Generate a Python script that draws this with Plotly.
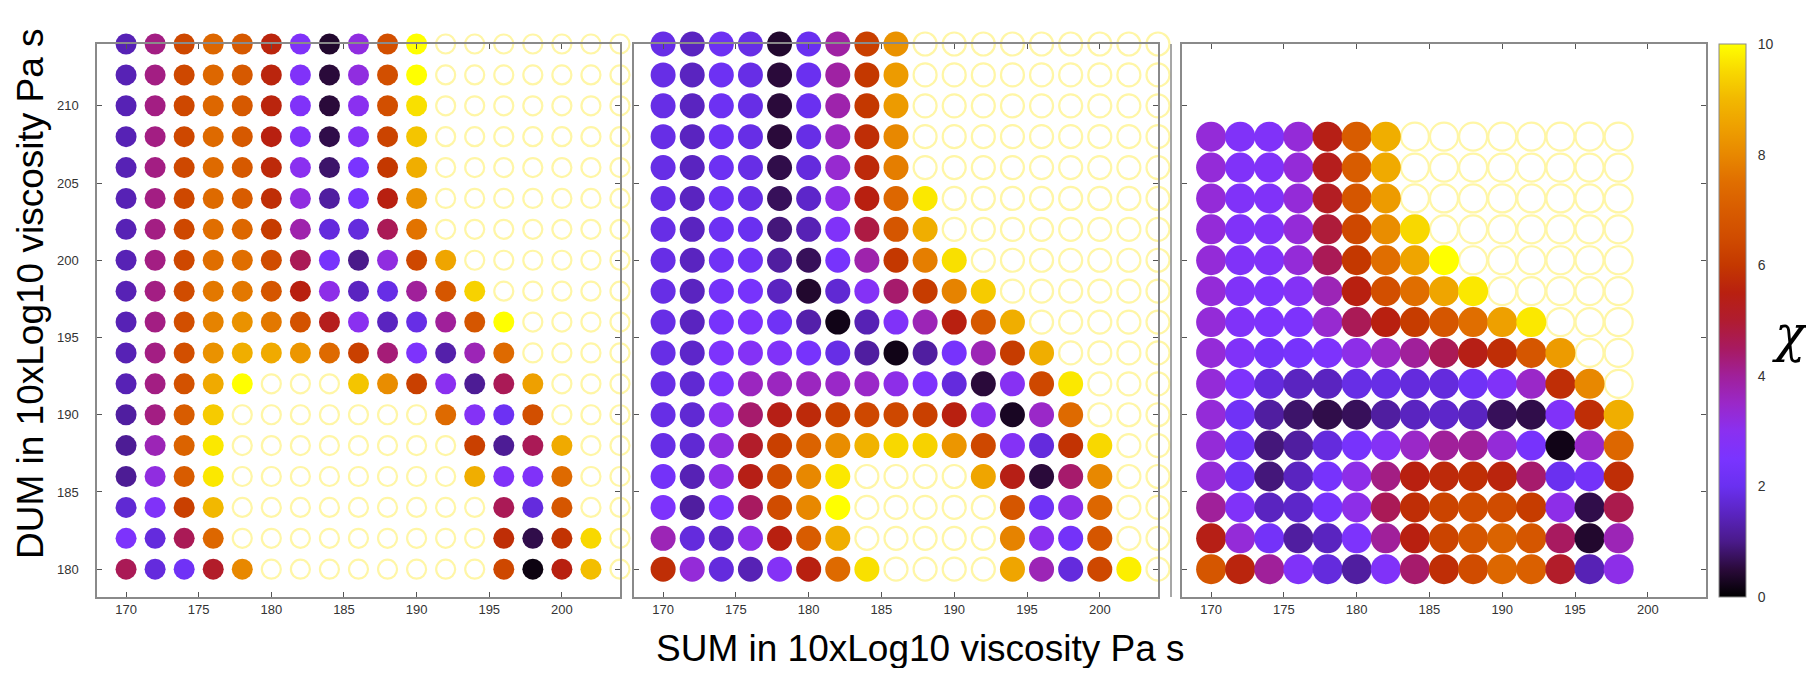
import plotly.graph_objects as go

# ---------------- data ----------------
X_VALUES = [170, 172, 174, 176, 178, 180, 182, 184, 186, 188, 190, 192, 194, 196, 198, 200, 202, 204]
Y_VALUES = [214, 212, 210, 208, 206, 204, 202, 200, 198, 196, 194, 192, 190, 188, 186, 184, 182, 180]
X3_VALUES = [170, 172, 174, 176, 178, 180, 182, 184, 186, 188, 190, 192, 194, 196, 198]
Y3_VALUES = [208, 206, 204, 202, 200, 198, 196, 194, 192, 190, 188, 186, 184, 182, 180]
N = None  # no value -> open circle

PANEL1 = [
    [1.4, 4.2, 6.4, 7.3, 6.9, 5.6, 2.7, 0.4, 3.2, 6.6, 10, N, N, N, N, N, N, N],
    [1.4, 4.2, 6.4, 7.3, 6.9, 5.6, 2.7, 0.5, 3.2, 6.6, 10, N, N, N, N, N, N, N],
    [1.4, 4.2, 6.4, 7.3, 6.9, 5.6, 2.7, 0.5, 3.0, 6.6, 9.6, N, N, N, N, N, N, N],
    [1.4, 4.2, 6.4, 7.4, 6.9, 5.5, 2.7, 0.6, 2.8, 6.3, 9.2, N, N, N, N, N, N, N],
    [1.4, 4.2, 6.4, 7.4, 6.9, 5.7, 3.0, 0.8, 2.5, 6.0, 8.8, N, N, N, N, N, N, N],
    [1.4, 4.2, 6.4, 7.4, 7.0, 5.8, 3.2, 1.2, 2.4, 5.5, 8.2, N, N, N, N, N, N, N],
    [1.4, 4.2, 6.4, 7.5, 7.3, 6.1, 3.8, 1.8, 1.8, 4.6, 7.6, N, N, N, N, N, N, N],
    [1.4, 4.2, 6.4, 7.5, 7.5, 6.5, 4.6, 2.4, 1.0, 3.2, 6.4, 8.6, N, N, N, N, N, N],
    [1.4, 4.2, 6.5, 7.7, 7.7, 6.8, 5.5, 3.1, 1.5, 1.9, 4.0, 6.8, 9.4, N, N, N, N, N],
    [1.4, 4.2, 6.6, 7.9, 8.2, 7.7, 6.7, 5.3, 3.0, 1.5, 1.9, 4.0, 6.8, 10, N, N, N, N],
    [1.4, 4.2, 6.6, 8.2, 8.8, 8.7, 8.3, 7.4, 6.2, 4.3, 2.6, 1.3, 3.7, 7.4, N, N, N, N],
    [1.4, 4.2, 6.7, 8.7, 10, N, N, N, 9.2, 8.1, 6.2, 3.0, 1.1, 4.6, 8.5, N, N, N],
    [1.2, 4.2, 7.0, 9.3, N, N, N, N, N, N, N, 7.4, 2.8, 2.1, 6.6, N, N, N],
    [1.1, 3.7, 7.2, 9.7, N, N, N, N, N, N, N, N, 6.2, 1.1, 4.6, 8.7, N, N],
    [1.1, 3.2, 7.0, 9.7, N, N, N, N, N, N, N, N, 8.8, 2.7, 2.7, 7.4, N, N],
    [1.7, 2.7, 6.2, 9.0, N, N, N, N, N, N, N, N, N, 4.6, 1.8, 6.8, N, N],
    [2.6, 1.8, 4.6, 7.3, N, N, N, N, N, N, N, N, N, 5.8, 0.6, 5.9, 9.5, N],
    [4.6, 1.8, 2.2, 5.1, 8.0, N, N, N, N, N, N, N, N, 6.4, 0.15, 5.5, 9.1, N],
]

PANEL2 = [
    [1.9, 1.5, 2.1, 1.9, 0.4, 2.0, 3.9, 6.2, 8.2, N, N, N, N, N, N, N, N, N],
    [1.9, 1.5, 2.1, 1.9, 0.5, 2.0, 3.9, 6.0, 8.4, N, N, N, N, N, N, N, N, N],
    [1.9, 1.5, 2.1, 1.9, 0.5, 2.0, 3.8, 6.0, 8.4, N, N, N, N, N, N, N, N, N],
    [1.9, 1.5, 2.1, 1.9, 0.5, 1.9, 3.6, 5.8, 8.0, N, N, N, N, N, N, N, N, N],
    [1.9, 1.5, 2.1, 1.9, 0.6, 1.8, 3.4, 5.7, 7.8, N, N, N, N, N, N, N, N, N],
    [1.9, 1.5, 2.1, 1.9, 0.7, 1.6, 3.1, 5.5, 7.3, 9.7, N, N, N, N, N, N, N, N],
    [1.9, 1.5, 2.1, 2.0, 0.9, 1.4, 2.7, 4.8, 6.8, 8.8, N, N, N, N, N, N, N, N],
    [1.9, 1.5, 2.2, 2.2, 1.2, 0.7, 2.4, 3.8, 6.0, 7.8, 9.6, N, N, N, N, N, N, N],
    [1.9, 1.5, 2.3, 2.4, 1.5, 0.4, 1.7, 2.8, 4.4, 6.1, 7.9, 9.3, N, N, N, N, N, N],
    [1.9, 1.5, 2.4, 2.6, 2.2, 1.3, 0.2, 1.4, 2.7, 3.7, 5.5, 6.9, 8.8, N, N, N, N, N],
    [1.9, 1.6, 2.6, 2.8, 2.7, 2.4, 1.9, 1.2, 0.2, 1.2, 2.4, 3.7, 6.1, 8.8, N, N, N, N],
    [1.9, 1.7, 2.6, 3.6, 3.6, 3.6, 3.5, 3.5, 3.1, 2.6, 1.8, 0.5, 2.9, 6.4, 9.7, N, N, N],
    [1.9, 1.7, 3.0, 4.4, 5.4, 5.7, 6.2, 6.4, 6.4, 6.2, 5.5, 3.0, 0.3, 3.5, 7.4, N, N, N],
    [1.9, 1.7, 3.2, 5.1, 6.2, 7.2, 8.1, 8.9, 9.5, 9.4, 8.3, 6.4, 2.8, 1.8, 5.9, 9.5, N, N],
    [2.3, 1.4, 3.1, 5.4, 6.5, 8.0, 9.7, N, N, N, N, 8.6, 5.4, 0.5, 4.4, 8.0, N, N],
    [2.6, 1.2, 2.6, 4.5, 6.5, 8.0, 10, N, N, N, N, N, 6.8, 2.2, 3.1, 7.3, N, N],
    [3.7, 1.8, 1.6, 3.1, 5.5, 7.0, 8.8, N, N, N, N, N, 7.9, 3.0, 2.3, 6.8, N, N],
    [5.8, 3.3, 1.8, 1.4, 2.8, 5.5, 7.4, 9.6, N, N, N, N, 8.6, 3.7, 1.8, 6.4, 9.8, N],
]

PANEL3 = [
    [3.3, 2.7, 2.7, 3.3, 5.4, 7.0, 8.8, N, N, N, N, N, N, N, N],
    [3.3, 2.7, 2.7, 3.3, 5.3, 7.0, 8.7, N, N, N, N, N, N, N, N],
    [3.3, 2.7, 2.7, 3.3, 5.2, 6.8, 8.4, N, N, N, N, N, N, N, N],
    [3.3, 2.7, 2.7, 3.3, 4.9, 6.4, 8.1, 9.5, N, N, N, N, N, N, N],
    [3.3, 2.7, 2.7, 3.3, 4.6, 6.0, 7.5, 8.6, 10, N, N, N, N, N, N],
    [3.3, 2.7, 2.6, 2.8, 3.7, 5.5, 6.6, 7.5, 8.6, 9.7, N, N, N, N, N],
    [3.3, 2.7, 2.6, 2.6, 3.4, 4.6, 5.5, 6.1, 6.8, 7.5, 8.5, 9.7, N, N, N],
    [3.3, 2.7, 2.3, 2.4, 2.6, 3.1, 3.5, 4.0, 4.6, 5.4, 5.8, 6.8, 8.4, N, N],
    [3.3, 2.6, 1.8, 1.5, 1.5, 1.9, 1.9, 1.8, 1.8, 2.2, 2.7, 3.5, 5.8, 8.0, N],
    [3.3, 2.2, 1.2, 0.8, 0.6, 0.7, 1.2, 1.5, 1.6, 1.5, 0.7, 0.6, 2.7, 5.8, 8.8],
    [3.3, 2.2, 0.9, 1.2, 1.8, 2.4, 2.8, 3.5, 4.0, 4.0, 3.3, 2.4, 0.2, 3.5, 7.3],
    [3.3, 2.2, 0.9, 1.5, 2.4, 3.1, 4.2, 5.5, 5.7, 5.8, 5.6, 4.4, 2.0, 2.3, 5.8],
    [4.0, 2.7, 1.5, 1.6, 2.4, 3.1, 4.6, 5.8, 6.3, 6.5, 6.5, 6.1, 3.1, 0.6, 4.7],
    [5.4, 3.3, 2.3, 1.2, 1.5, 2.6, 4.0, 5.5, 6.3, 6.8, 7.2, 6.8, 4.5, 0.4, 3.7],
    [6.8, 5.6, 4.0, 2.7, 1.8, 1.2, 2.7, 4.4, 5.8, 6.5, 7.3, 7.1, 5.1, 1.4, 3.1],
]

X_TICKS = [170, 175, 180, 185, 190, 195, 200]
Y_TICKS = [180, 185, 190, 195, 200, 205, 210]
CBAR_TICKS = [0, 2, 4, 6, 8, 10]

# ---------------- style ----------------
PAGE_W, PAGE_H = 1814, 676
BODY = 8                      # default page margin around the plot div
FW, FH = PAGE_W - 2 * BODY, PAGE_H - 2 * BODY

COLORSCALE = [
    [0.00, "#000000"], [0.05, "#2a0a3a"], [0.10, "#4a1a8a"], [0.15, "#5a24c0"],
    [0.20, "#6a30f0"], [0.25, "#7a34ff"], [0.30, "#8a30f0"], [0.35, "#9a28c8"],
    [0.40, "#a0209a"], [0.45, "#a81a60"], [0.50, "#b01c30"], [0.55, "#b82010"],
    [0.60, "#c43800"], [0.65, "#d04c00"], [0.70, "#d85c00"], [0.75, "#e06e00"],
    [0.80, "#e88800"], [0.85, "#eea000"], [0.90, "#f2b800"], [0.95, "#f8d800"],
    [1.00, "#ffff00"],
]
RING = "#fff6a6"
FRAME = "#8a8a8a"
SANS = "Liberation Sans, Arial, sans-serif"
TICKFONT = dict(family=SANS, size=13, color="#333333")


def px_x(p):
    return (p - BODY) / FW


def px_y(p):
    return 1 - (p - BODY) / FH


Y_TOP, Y_BOT = 44, 597
PANELS_PX = [(97, 620), (634, 1158), (1182, 1706)]
X_RANGE = [168, 204]
Y_RANGE = [178.2, 214]

fig = go.Figure()


def add_panel(idx, mat, xs, ys, size):
    fx, fy, fv, ox, oy = [], [], [], [], []
    for r, yv in enumerate(ys):
        for c, xv in enumerate(xs):
            v = mat[r][c]
            if v is None:
                ox.append(xv)
                oy.append(yv)
            else:
                fx.append(xv)
                fy.append(yv)
                fv.append(v)
    ax = "" if idx == 1 else str(idx)
    fig.add_trace(go.Scatter(
        x=ox, y=oy, mode="markers", xaxis="x" + ax, yaxis="y" + ax,
        marker=dict(symbol="circle-open", size=size - 2, color=RING,
                    line=dict(width=2.2, color=RING)),
        cliponaxis=False, hoverinfo="skip", showlegend=False))
    fig.add_trace(go.Scatter(
        x=fx, y=fy, mode="markers", xaxis="x" + ax, yaxis="y" + ax,
        marker=dict(size=size, color=fv, coloraxis="coloraxis", line=dict(width=0)),
        cliponaxis=False, showlegend=False))


add_panel(1, PANEL1, X_VALUES, Y_VALUES, 21)
add_panel(2, PANEL2, X_VALUES, Y_VALUES, 25)
add_panel(3, PANEL3, X3_VALUES, Y3_VALUES, 30)

layout = dict(
    width=FW, height=FH, margin=dict(l=0, r=0, t=0, b=0, autoexpand=False),
    paper_bgcolor="white", plot_bgcolor="white", showlegend=False,
    coloraxis=dict(
        colorscale=COLORSCALE, cmin=0, cmax=10,
        colorbar=dict(
            x=px_x(1719), xanchor="left", xpad=0,
            y=px_y(Y_BOT), yanchor="bottom", ypad=0,
            len=(Y_BOT - Y_TOP) / FH, lenmode="fraction",
            thickness=27, thicknessmode="pixels",
            outlinewidth=1, outlinecolor=FRAME,
            tickvals=CBAR_TICKS, ticks="outside", ticklen=9, tickcolor="rgba(0,0,0,0)",
            tickfont=dict(family=SANS, size=14, color="#333333"),
        ),
    ),
)

for i, (l, r) in enumerate(PANELS_PX, start=1):
    s = "" if i == 1 else str(i)
    layout["xaxis" + s] = dict(
        domain=[px_x(l), px_x(r)], range=X_RANGE, anchor="y" + s,
        tickvals=X_TICKS, ticks="inside", ticklen=5, tickcolor="#555555",
        showline=True, linecolor=FRAME, linewidth=1.5, mirror="ticks",
        showgrid=False, zeroline=False, tickfont=TICKFONT, ticklabelstandoff=0,
    )
    layout["yaxis" + s] = dict(
        domain=[px_y(Y_BOT), px_y(Y_TOP)], range=Y_RANGE, anchor="x" + s,
        tickvals=Y_TICKS, ticks="inside", ticklen=5, tickcolor="#555555",
        showline=True, linecolor=FRAME, linewidth=1.5, mirror="ticks",
        showgrid=False, zeroline=False, tickfont=TICKFONT,
        showticklabels=(i == 1), ticklabelstandoff=14,
    )

fig.update_layout(**layout)

fig.add_annotation(
    text="DUM in 10xLog10 viscosity Pa s", xref="paper", yref="paper",
    x=px_x(30), y=px_y(294), xanchor="center", yanchor="middle",
    showarrow=False, textangle=-90,
    font=dict(family=SANS, size=37, color="black"))
fig.add_annotation(
    text="SUM in 10xLog10 viscosity Pa s", xref="paper", yref="paper",
    x=px_x(920), y=px_y(668), xanchor="center", yanchor="bottom", yshift=-3,
    showarrow=False,
    font=dict(family=SANS, size=37, color="black"))
fig.add_annotation(
    text="<i>χ</i>", xref="paper", yref="paper",
    x=px_x(1790), y=px_y(334), xanchor="center", yanchor="middle", showarrow=False,
    font=dict(family="DejaVu Serif, Liberation Serif, serif", size=50, color="black"))

fig.add_shape(type="line", xref="paper", yref="paper",
              x0=px_x(1171), x1=px_x(1171), y0=px_y(Y_BOT), y1=px_y(Y_TOP),
              line=dict(color=FRAME, width=1.5))

fig.write_html("out.html")
